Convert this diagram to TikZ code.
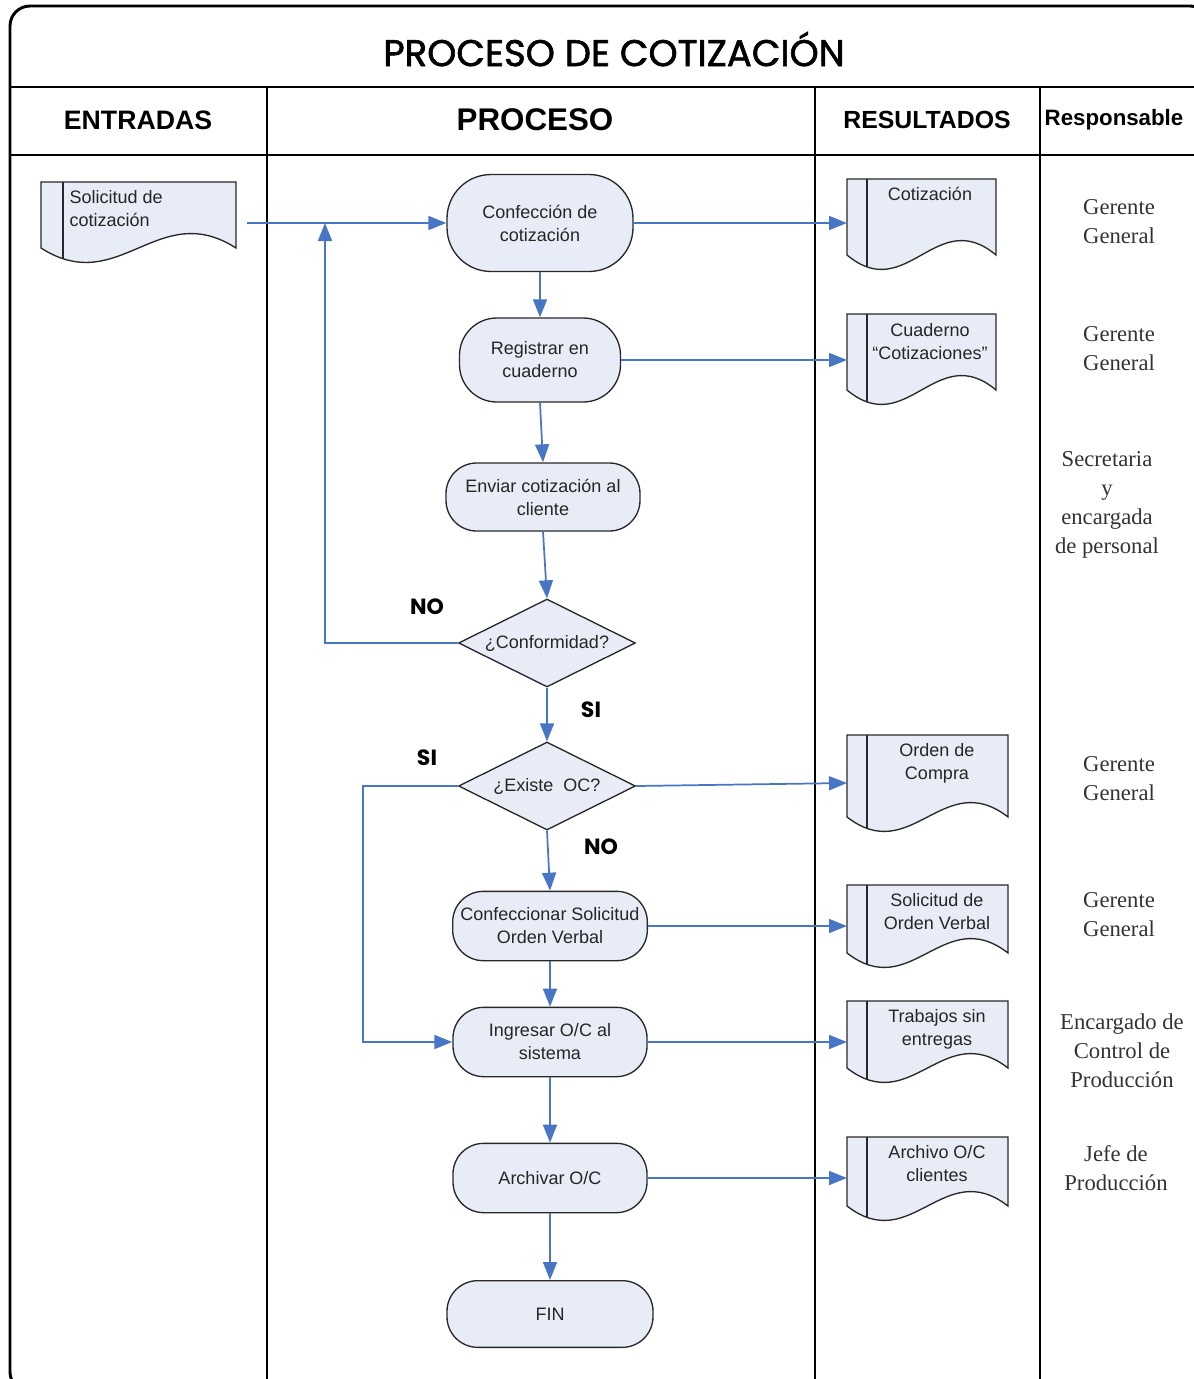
\documentclass[tikz,border=0pt]{standalone}
\usepackage{fontspec}
\setmainfont{Liberation Sans}
\newfontfamily\serifa{Liberation Serif}
\newfontfamily\gotica{Poppins}
\newfontfamily\goticamedia{Poppins}[FakeBold=1.6]
\usetikzlibrary{shapes.geometric,arrows.meta}

\definecolor{azul}{RGB}{72,118,196}
\definecolor{relleno}{RGB}{232,236,246}
\definecolor{borde}{RGB}{40,40,40}

\tikzset{every picture/.style={line width=0.75pt}}
\tikzset{
  marco/.style={line width=1.6pt},
  terminal/.style={draw=borde,fill=relleno,line width=1pt,align=center,inner sep=0pt,
    font=\fontsize{13.5}{17.25}\selectfont,text=black!85},
  decision/.style={diamond,aspect=2,draw=borde,fill=relleno,line width=1pt,inner sep=1pt,
    minimum width=132.75pt,minimum height=66pt,font=\fontsize{13.5}{17.25}\selectfont,text=black!85},
  documento/.style={draw=borde,fill=relleno,line width=1pt},
  doctexto/.style={inner sep=0pt,align=center,font=\fontsize{13.5}{17.25}\selectfont,text=black!85},
  flecha/.style={draw=azul,line width=1.3pt,-{Triangle[length=13.5pt,width=10.5pt]}},
  encabezado/.style={font=\bfseries\fontsize{20}{24}\selectfont},
  responsable/.style={align=center,font=\serifa\fontsize{17}{21.75}\selectfont,text=black!80},
  rotulo/.style={font=\gotica\bfseries\fontsize{16.5}{20}\selectfont}
}

\begin{document}
\begin{tikzpicture}[x=0.75pt,y=0.75pt,yscale=-1,xscale=1]
\clip (0,0) rectangle (1194,1379);

% Table
\draw[line width=2.2pt,rounded corners=15pt] (10,6) rectangle (1210,1392);
\draw[marco] (10,87) -- (1194,87);
\draw[marco] (10,155) -- (1194,155);
\draw[marco] (267,87) -- (267,1379);
\draw[marco] (815,87) -- (815,1379);
\draw[marco] (1040,87) -- (1040,1379);

% Title and headers
\node (titulo) at (614,49) {\goticamedia\fontsize{27.8}{33}\selectfont PROCESO DE COTIZACIÓN};
\node[encabezado] (entradas) at (138,120) {ENTRADAS};
\node[font=\bfseries\fontsize{23.5}{28}\selectfont] (proceso) at (535,120) {PROCESO};
\node[font=\bfseries\fontsize{18.6}{22}\selectfont] (resultados) at (927,120) {RESULTADOS};
\node[font=\bfseries\fontsize{16.7}{20}\selectfont] (responsable) at (1114,120) {Responsable};

% Documents
\draw[documento] (41,182) -- (236,182) -- (236,248) .. controls (158,198) and (119,298) .. (41,248) -- cycle;
\draw[documento] (63,182) -- (63,259);
\node[doctexto,anchor=north west,align=left] (solicitud) at (69,190) {Solicitud de\\cotización};
\coordinate (solout) at (247,223);

\draw[documento] (847,179) -- (996,179) -- (996,255) .. controls (936.4,205) and (906.6,305) .. (847,255) -- cycle;
\draw[documento] (867,179) -- (867,267);
\node[doctexto,anchor=north] (cotizacion) at (930,187) {Cotización};
\coordinate (cotin) at (847,223);

\draw[documento] (847,314) -- (996,314) -- (996,390) .. controls (936.4,340) and (906.6,440) .. (847,390) -- cycle;
\draw[documento] (867,314) -- (867,402);
\node[doctexto,anchor=north] (cuadernodoc) at (930,323) {Cuaderno\\“Cotizaciones”};
\coordinate (cuain) at (847,360);

\draw[documento] (847,735) -- (1008,735) -- (1008,817) .. controls (943.6,767) and (911.4,867) .. (847,817) -- cycle;
\draw[documento] (867,735) -- (867,829);
\node[doctexto,anchor=north] (orden) at (937,743) {Orden de\\Compra};
\coordinate (ordin) at (847,783);

\draw[documento] (847,885) -- (1008,885) -- (1008,953) .. controls (943.6,903) and (911.4,1003) .. (847,953) -- cycle;
\draw[documento] (867,885) -- (867,965);
\node[doctexto,anchor=north] (solverbal) at (937,893) {Solicitud de\\Orden Verbal};
\coordinate (sovin) at (847,926);

\draw[documento] (847,1001) -- (1008,1001) -- (1008,1068) .. controls (943.6,1018) and (911.4,1118) .. (847,1068) -- cycle;
\draw[documento] (867,1001) -- (867,1080);
\node[doctexto,anchor=north] (trabajos) at (937,1009) {Trabajos sin\\entregas};
\coordinate (train) at (847,1042);

\draw[documento] (847,1137) -- (1008,1137) -- (1008,1206) .. controls (943.6,1156) and (911.4,1256) .. (847,1206) -- cycle;
\draw[documento] (867,1137) -- (867,1218);
\node[doctexto,anchor=north] (archivo) at (937,1145) {Archivo O/C\\clientes};
\coordinate (arcin) at (847,1178);

% Process
\node[terminal,minimum width=139.5pt,minimum height=72.75pt,rounded corners=33pt] (conf) at (540,223) {Confección de\\cotización};
\node[terminal,minimum width=120.75pt,minimum height=63pt,rounded corners=28pt] (reg) at (540,360) {Registrar en\\cuaderno};
\node[terminal,minimum width=145.5pt,minimum height=51pt,rounded corners=23pt] (env) at (543,497) {Enviar cotización al\\cliente};
\node[decision] (conform) at (547,643) {¿Conformidad?};
\node[decision] (existe) at (547,786) {¿Existe\ \ OC?};
\node[terminal,minimum width=146pt,minimum height=52pt,rounded corners=23pt] (confsol) at (550,926) {Confeccionar Solicitud\\Orden Verbal};
\node[terminal,minimum width=145.5pt,minimum height=52pt,rounded corners=23pt] (ingr) at (550,1042) {Ingresar O/C al\\sistema};
\node[terminal,minimum width=145.5pt,minimum height=52pt,rounded corners=23pt] (arch) at (550,1178) {Archivar O/C};
\node[terminal,minimum width=154.5pt,minimum height=50pt,rounded corners=23pt] (fin) at (550,1314) {FIN};

% Labels
\node[rotulo] (no1) at (427,607) {NO};
\node[rotulo] (si1) at (591,710) {SI};
\node[rotulo] (si2) at (427,758) {SI};
\node[rotulo] (no2) at (601,847) {NO};

% Responsables
\node[responsable] (resp1) at (1119,222) {Gerente\\General};
\node[responsable] (resp2) at (1119,349) {Gerente\\General};
\node[responsable] (resp3) at (1107,505) {Secretaria\\y\\encargada\\de personal};
\node[responsable] (resp4) at (1119,779) {Gerente\\General};
\node[responsable] (resp5) at (1119,915) {Gerente\\General};
\node[responsable] (resp6) at (1122,1051) {Encargado de\\Control de\\Producción};
\node[responsable] (resp7) at (1116,1168) {Jefe de\\Producción};

% Connections
\coordinate (junta) at (325,223);
\draw[flecha] (solout) -- (conf.west);
\draw[flecha] (conform.west) -| (junta);
\draw[flecha] (conf.east) -- (cotin);
\draw[flecha] (conf.south) -- (reg.north);
\draw[flecha] (reg.east) -- (cuain);
\draw[flecha] (reg.south) -- (env.north);
\draw[flecha] (env.south) -- (conform.north);
\draw[flecha] (conform.south) -- (existe.north);
\draw[flecha] (existe.east) -- (ordin);
\draw[flecha] (existe.west) -- ++(-95,0) |- (ingr.west);
\draw[flecha] (existe.south) -- (confsol.north);
\draw[flecha] (confsol.east) -- (sovin);
\draw[flecha] (confsol.south) -- (ingr.north);
\draw[flecha] (ingr.east) -- (train);
\draw[flecha] (ingr.south) -- (arch.north);
\draw[flecha] (arch.east) -- (arcin);
\draw[flecha] (arch.south) -- (fin.north);

\end{tikzpicture}
\end{document}
